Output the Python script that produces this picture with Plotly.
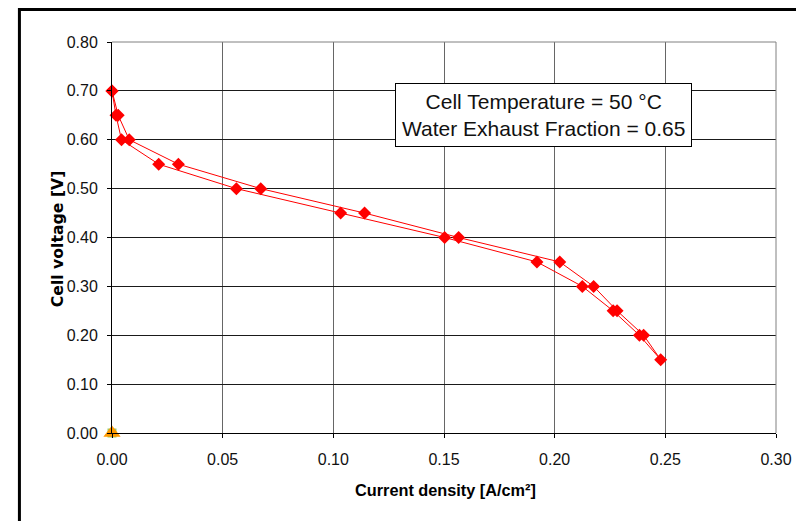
import plotly.graph_objects as go

# Polarization loop: down the lower-current branch, back up the higher-current branch
current_density = [0.0, 0.0018, 0.0043, 0.0211, 0.0562, 0.1033, 0.1503, 0.1920, 0.2125, 0.2264, 0.2383, 0.2479,
                   0.2402, 0.2282, 0.2176, 0.2023, 0.1566, 0.1141, 0.0672, 0.0300, 0.0078, 0.0028, 0.0]
cell_voltage = [0.70, 0.65, 0.60, 0.55, 0.50, 0.45, 0.40, 0.35, 0.30, 0.25, 0.20, 0.15,
                0.20, 0.25, 0.30, 0.35, 0.40, 0.45, 0.50, 0.55, 0.60, 0.65, 0.70]

origin_x = [0.0]
origin_y = [0.0]

x_ticks = [0.0, 0.05, 0.10, 0.15, 0.20, 0.25, 0.30]
y_ticks = [0.0, 0.10, 0.20, 0.30, 0.40, 0.50, 0.60, 0.70, 0.80]

FONT = "Liberation Sans, Arial, sans-serif"

fig = go.Figure()

fig.add_trace(go.Scatter(x=origin_x, y=origin_y, mode="markers", cliponaxis=False,
                         marker=dict(symbol="square", size=9, color="#99CC66"),
                         showlegend=False, hoverinfo="skip"))
fig.add_trace(go.Scatter(x=origin_x, y=origin_y, mode="markers", cliponaxis=False,
                         marker=dict(symbol="diamond", size=7, color="#3366CC"),
                         showlegend=False, hoverinfo="skip"))
fig.add_trace(go.Scatter(x=origin_x, y=origin_y, mode="markers", cliponaxis=False,
                         marker=dict(symbol="triangle-up", size=15, color="#FF9900"),
                         showlegend=False, hoverinfo="skip"))

fig.add_trace(go.Scatter(x=current_density, y=cell_voltage, mode="lines+markers", cliponaxis=False,
                         line=dict(color="#FF0000", width=1),
                         marker=dict(symbol="diamond", size=10, color="#FF0000"),
                         showlegend=False))

# page body has an 8px margin, so the figure is 8px smaller and margins 8px less
fig.update_layout(
    width=796, height=513,
    margin=dict(l=104, r=25, t=34, b=88),
    paper_bgcolor="white", plot_bgcolor="white",
    font=dict(family=FONT, size=16, color="black"),
    showlegend=False,
)

fig.update_xaxes(
    range=[0, 0.30], tickvals=x_ticks, tickformat=".2f",
    showgrid=True, gridcolor="#666666", gridwidth=1,
    showline=True, linecolor="black", linewidth=1, mirror=False,
    ticks="outside", ticklen=4, tickcolor="black", ticklabelstandoff=8,
    zeroline=False,
    tickfont=dict(family=FONT, size=16, color="#111111"),
)
fig.update_yaxes(
    range=[0, 0.80], tickvals=y_ticks, tickformat=".2f",
    showgrid=True, gridcolor="#1a1a1a", gridwidth=1,
    showline=True, linecolor="black", linewidth=1,
    ticks="outside", ticklen=4, tickcolor="black", ticklabelstandoff=6,
    zeroline=False,
    tickfont=dict(family=FONT, size=16, color="#111111"),
)

# axis titles
fig.add_annotation(xref="paper", yref="paper", x=(447 - 112) / 667, y=(433 - 490) / 391,
                   text="<b>Current density [A/cm²]</b>", showarrow=False,
                   xanchor="center", yanchor="middle",
                   font=dict(family=FONT, size=16.3, color="black"))
fig.add_annotation(xref="paper", yref="paper", x=(57 - 112) / 667, y=(433 - 239) / 391,
                   text="<b>Cell voltage [V]</b>", showarrow=False, textangle=-90,
                   xanchor="center", yanchor="middle",
                   font=dict(family="DejaVu Sans, sans-serif", size=15.7, color="black"))

# top and right plot borders (gray)
fig.add_shape(type="line", xref="paper", yref="paper", x0=0, x1=1, y0=1, y1=1,
              line=dict(color="#808080", width=1))
fig.add_shape(type="line", xref="paper", yref="paper", x0=1, x1=1, y0=0, y1=1,
              line=dict(color="#808080", width=1))

# outer chart frame (extends past the right and bottom edges)
fig.add_shape(type="rect", xref="paper", yref="paper",
              x0=(19 - 112) / 667, x1=1.2,
              y0=-0.5, y1=1 + (42 - 9.5) / 391,
              line=dict(color="black", width=3), layer="above")

fig.add_annotation(
    xref="paper", yref="paper",
    x=(545 - 112) / 667, y=(433 - 115) / 391,
    xanchor="center", yanchor="middle",
    text="Cell Temperature = 50 °C<br>Water Exhaust Fraction = 0.65",
    showarrow=False, align="center",
    font=dict(family=FONT, size=21, color="#111111"),
    bgcolor="white", bordercolor="black", borderwidth=1, borderpad=6,
)

fig.write_html("out.html")
